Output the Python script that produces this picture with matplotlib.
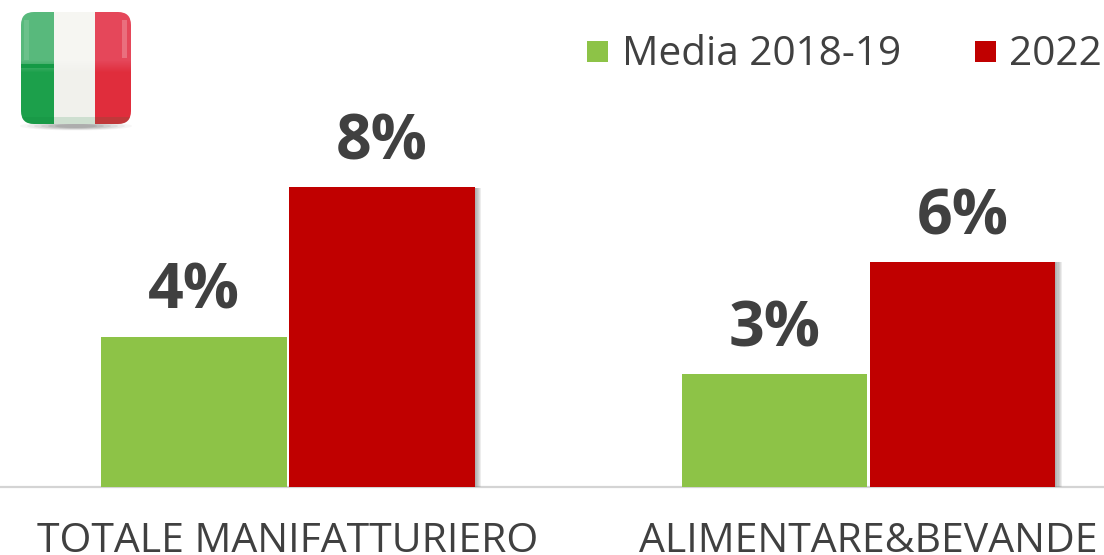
import matplotlib
matplotlib.use("Agg")
import matplotlib.pyplot as plt
import matplotlib.patheffects as pe
from matplotlib.patches import FancyBboxPatch, Rectangle, Ellipse
import numpy as np

categories = ["TOTALE MANIFATTURIERO", "ALIMENTARE&BEVANDE"]
series_names = ["Media 2018-19", "2022"]
media_2018_19 = [4, 3]
anno_2022 = [8, 6]
colors = ["#8DC347", "#C00000"]
text_color = "#404040"

plt.rcParams["font.family"] = ["Open Sans", "DejaVu Sans"]
W, H = 1104, 555
fig = plt.figure(figsize=(W / 100, H / 100), dpi=100, facecolor="white")

base_px = 486.5
ppu = 37.45
ax = fig.add_axes([0, (H - base_px) / H, 1, base_px / H])
ax.set_xlim(-288 / 580.5, (W - 288) / 580.5)
ax.set_ylim(0, base_px / ppu)
ax.patch.set_alpha(0)
for s in ["top", "left", "right"]:
    ax.spines[s].set_visible(False)
ax.spines["bottom"].set_color("#D4D4D4")
ax.spines["bottom"].set_linewidth(1.6)
ax.set_yticks([])
ax.set_xticks([0, 1])
ax.set_xticklabels(categories, fontsize=29.5, color=text_color)
ax.tick_params(axis="x", length=0, pad=25)

x = np.arange(len(categories))
bw = 185.5 / 580.5
step = 188 / 580.5
shadow = [pe.SimplePatchShadow(offset=(o, -0.5), shadow_rgbFace="#808080", alpha=0.14)
          for o in (4.8, 4.0, 3.2, 2.4, 1.6, 0.8)]
for i, (vals, col) in enumerate(zip([media_2018_19, anno_2022], colors)):
    pos = x + (i - 0.5) * step
    bars = ax.bar(pos, vals, width=bw, color=col, linewidth=0, zorder=3)
    if i == 1:
        for b in bars:
            b.set_path_effects(shadow + [pe.Normal()])
    for px, v in zip(pos, vals):
        ax.annotate(f"{v}%", (px, v), xytext=(0, 20), textcoords="offset points",
                    ha="center", va="baseline", fontsize=45, fontweight="bold",
                    color=text_color, zorder=4)

ov = fig.add_axes([0, 0, 1, 1], zorder=5)
ov.set_xlim(0, W)
ov.set_ylim(H, 0)
ov.axis("off")

ov.add_patch(Rectangle((587, 41), 21, 21, color=colors[0], lw=0))
ov.text(622, 65, series_names[0], fontsize=29.2, color=text_color, va="baseline", ha="left")
ov.add_patch(Rectangle((975, 41), 21, 21, color=colors[1], lw=0))
ov.text(1009, 65, series_names[1], fontsize=29.2, color=text_color, va="baseline", ha="left")

# flag icon: decorative raster with vertical shading, clipped to a rounded square
for k, a in zip(range(6), [0.05, 0.07, 0.09, 0.11, 0.13, 0.15]):
    ov.add_patch(Ellipse((76, 126), 112 - 14 * k, 9 - k, color="#555555", alpha=a, lw=0))
fx0, fx1, fy0, fy1 = 20, 132, 11, 125
nx, ny = fx1 - fx0, fy1 - fy0
img = np.ones((ny, nx, 3))
xs = np.arange(nx) + fx0
ys = np.arange(ny) + fy0
def hexrgb(h):
    return np.array([int(h[i:i + 2], 16) for i in (1, 3, 5)]) / 255
stripes = [(xs < 54, "#58B97C", "#1CA04B"), ((xs >= 54) & (xs < 95), "#F6F6F2", "#F1F1EC"), (xs >= 95, "#E5475A", "#E02D3C")]
for mask, top, bot in stripes:
    t = np.clip((ys - 60) / 12, 0, 1)[:, None]
    img[:, mask, :] = ((1 - t) * hexrgb(top) + t * hexrgb(bot))[:, None, :]
clip = FancyBboxPatch((fx0 + 1, fy0 + 1), nx - 2, ny - 2, boxstyle="round,pad=0,rounding_size=13", fc="none", ec="none")
ov.add_patch(clip)
im = ov.imshow(img, extent=(fx0, fx1, fy1, fy0), interpolation="bilinear", aspect="auto", zorder=2)
im.set_clip_path(clip)
ov.set_xlim(0, W)
ov.set_ylim(H, 0)
# highlight stripes of the glossy icon
r = Rectangle((20, 64), 34, 4, color="#149A45", lw=0, zorder=3)
ov.add_patch(r)
r.set_clip_path(clip)
r = Rectangle((24, 20), 5, 40, color="#FFFFFF", alpha=0.12, lw=0, zorder=3)
ov.add_patch(r)
r.set_clip_path(clip)
r = Rectangle((122, 20), 5, 38, color="#FFFFFF", alpha=0.22, lw=0, zorder=3)
ov.add_patch(r)
r.set_clip_path(clip)
r = Rectangle((20, 117), 112, 8, color="#0B7A35", alpha=0.15, lw=0, zorder=3)
ov.add_patch(r)
r.set_clip_path(clip)

fig.savefig("out.png", dpi=100, facecolor="white")
